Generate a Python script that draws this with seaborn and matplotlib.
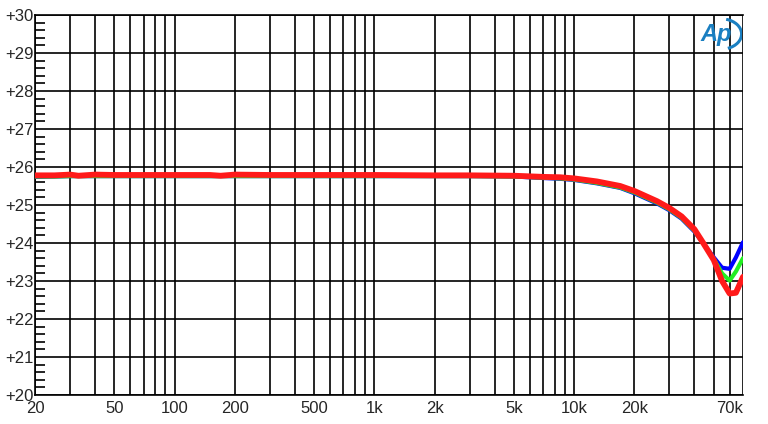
import matplotlib
matplotlib.use("Agg")
from matplotlib import pyplot as plt
from matplotlib.patches import Arc
from matplotlib.ticker import FixedLocator, MultipleLocator, NullFormatter
import pandas as pd
import seaborn as sns

freq = [20, 25, 30, 33, 40, 50, 60, 80, 100, 150, 170, 200, 300, 500, 1000,
        2000, 3000, 5000, 7000, 8500, 10000, 13000, 17000, 20000, 26000,
        30000, 34500, 40000, 44500, 50000, 55000, 60000, 64500, 70000]

blue = [25.74, 25.75, 25.76, 25.76, 25.76, 25.76, 25.76, 25.76, 25.76, 25.76,
        25.76, 25.76, 25.76, 25.76, 25.76, 25.76, 25.76, 25.75, 25.71, 25.69,
        25.66, 25.57, 25.45, 25.31, 25.04, 24.86, 24.64, 24.30, 23.98, 23.62,
        23.35, 23.32, 23.62, 24.02]
green = [25.75, 25.75, 25.76, 25.76, 25.76, 25.76, 25.76, 25.76, 25.76, 25.76,
         25.76, 25.76, 25.76, 25.76, 25.76, 25.76, 25.76, 25.75, 25.72, 25.70,
         25.67, 25.58, 25.46, 25.33, 25.06, 24.88, 24.66, 24.32, 23.97, 23.58,
         23.20, 23.01, 23.25, 23.60]
red = [25.78, 25.78, 25.80, 25.77, 25.80, 25.79, 25.79, 25.79, 25.79, 25.79,
       25.77, 25.80, 25.79, 25.79, 25.79, 25.78, 25.78, 25.77, 25.74, 25.73,
       25.70, 25.62, 25.50, 25.37, 25.10, 24.92, 24.70, 24.36, 23.98, 23.55,
       23.00, 22.67, 22.69, 23.11]

x_ticks = [20, 50, 100, 200, 500, 1000, 2000, 5000, 10000, 20000, 70000]
x_labels = ["20", "50", "100", "200", "500", "1k", "2k", "5k", "10k", "20k", "70k"]
y_ticks = list(range(20, 31))
y_labels = ["+%d" % v for v in y_ticks]

grid_x = [m * 10 ** e for e in range(1, 5) for m in range(1, 10)]
grid_x = [g for g in grid_x if 20 <= g <= 70000]

df = pd.DataFrame({
    "freq": freq * 3,
    "level": blue + green + red,
    "trace": ["blue"] * len(freq) + ["green"] * len(freq) + ["red"] * len(freq),
})

sns.set_style("white")
plt.rcParams['font.family'] = ['Liberation Sans', 'DejaVu Sans']

fig = plt.figure(figsize=(7.68, 4.24), dpi=100)
ax = fig.add_axes([35 / 768, 29 / 424, 708 / 768, 380 / 424])

for x in grid_x:
    ax.axvline(x, color="black", lw=1.2, zorder=1)
for y in y_ticks:
    ax.axhline(y, color="black", lw=1.2, zorder=1)

palette = {"blue": "#0000ff", "green": "#22ee22", "red": "#ff1a1a"}
widths = {"blue": 3.0, "green": 3.0, "red": 4.2}
for name in ["blue", "green", "red"]:
    sns.lineplot(data=df[df.trace == name], x="freq", y="level",
                 color=palette[name], lw=widths[name], ax=ax, zorder=3)

ax.set_xscale("log")
ax.set_xlim(20, 70000)
ax.set_ylim(20, 30)
ax.xaxis.set_major_locator(FixedLocator(x_ticks))
ax.set_xticks(x_ticks)
ax.set_xticklabels(x_labels)
ax.get_xticklabels()[-1].set_horizontalalignment("right")
ax.xaxis.set_minor_formatter(NullFormatter())
ax.set_yticks(y_ticks)
ax.set_yticklabels(y_labels)
ax.yaxis.set_minor_locator(MultipleLocator(0.2))
ax.tick_params(axis="x", which="both", length=0, labelsize=12, pad=4)
ax.tick_params(axis="y", which="major", length=0, labelsize=12, pad=1)
ax.tick_params(axis="y", which="minor", direction="in", length=7, width=1.2,
               color="black", left=True)
ax.set_xlabel("")
ax.set_ylabel("")
for s in ax.spines.values():
    s.set_color("black")
    s.set_linewidth(1.2)
ax.spines["right"].set_visible(False)

# AP logo
fig.text(716 / 768, 1 - 34 / 424, "Ap", color="#1a7fc1", fontsize=17,
         fontweight="bold", style="italic", ha="center", va="center")
logo_ax = fig.add_axes([700 / 768, 1 - 50 / 424, 42 / 768, 32 / 424])
logo_ax.set_xlim(0, 1)
logo_ax.set_ylim(0, 1)
logo_ax.axis("off")
logo_ax.patch.set_alpha(0)
logo_ax.add_patch(Arc((0.5, 0.5), 0.98, 0.95, theta1=-70, theta2=75,
                      color="#1a7fc1", lw=2.2))

fig.savefig("out.png", dpi=100)
